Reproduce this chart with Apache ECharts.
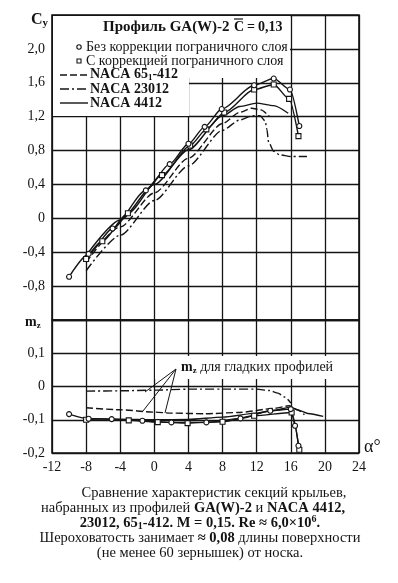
<!DOCTYPE html>
<html>
<head>
<meta charset="utf-8">
<script src="https://cdn.jsdelivr.net/npm/echarts@6/dist/echarts.min.js"></script>
<style>
html,body{margin:0;padding:0;background:#fff;}
#chart{width:398px;height:583px;}
</style>
</head>
<body>
<div id="chart"></div>
<script>
// ---- Cy(alpha) ----
// GA(W)-2 без коррекции (кружки)
var gaPlainAlpha = [-10, -7.7, -4.9, -1.0, 1.8, 4, 5.9, 7.9, 11.7, 14, 15.9, 17.0];
var gaPlainCy    = [-0.69, -0.42, -0.12, 0.33, 0.64, 0.88, 1.08, 1.29, 1.57, 1.65, 1.52, 1.09];
// GA(W)-2 с коррекцией (квадраты)
var gaCorrAlpha = [-8, -6.1, -3.1, 0.9, 4.2, 6.1, 8.2, 11.7, 14, 15.8, 16.9];
var gaCorrCy    = [-0.48, -0.27, 0.06, 0.51, 0.86, 1.05, 1.25, 1.52, 1.58, 1.41, 0.97];
// NACA 65-1-412
var n65Alpha = [-8, -4, 0, 4, 8, 10, 11.4, 12.5, 13.5];
var n65Cy    = [-0.52, -0.10, 0.30, 0.71, 1.12, 1.25, 1.30, 1.28, 1.20];
// NACA 23012
var n230Alpha = [-8, -4, 0, 4, 8, 10, 11.5, 12.4, 13.0, 13.2, 13.4, 14, 14.7, 16, 17.9];
var n230Cy    = [-0.62, -0.20, 0.21, 0.62, 1.04, 1.16, 1.21, 1.21, 1.15, 1.05, 0.90, 0.79, 0.75, 0.73, 0.73];
// NACA 4412
var n44Alpha = [-8, -4, 0, 4, 8, 10, 12, 14, 15.7];
var n44Cy    = [-0.44, -0.02, 0.40, 0.81, 1.21, 1.32, 1.36, 1.33, 1.24];

// ---- mz(alpha) ----
var gaPlainMzAlpha = [-10, -7.7, -5, -1.4, 2, 6.1, 10.1, 13.6, 16.0, 16.5, 16.9];
var gaPlainMz      = [-0.083, -0.097, -0.098, -0.103, -0.108, -0.108, -0.096, -0.073, -0.068, -0.118, -0.178];
var gaCorrMzAlpha = [-8, -3, 0.4, 3.9, 8, 11.7, 16.1, 17.0];
var gaCorrMz      = [-0.100, -0.102, -0.107, -0.110, -0.106, -0.088, -0.078, -0.190];
var n65MzAlpha = [-8, -4, 0, 2, 6, 10, 14, 15.8, 16.8, 17.6];
var n65Mz      = [-0.064, -0.070, -0.077, -0.080, -0.082, -0.078, -0.066, -0.058, -0.070, -0.085];
var n230MzAlpha = [-8, -4, 0, 4, 8, 12, 13.5, 14.5, 15.3, 16];
var n230Mz      = [-0.014, -0.013, -0.011, -0.008, -0.008, -0.008, -0.012, -0.020, -0.032, -0.050];
var n44MzAlpha = [-8, -4, 0, 4, 8, 12, 14, 16, 17, 18, 19.8];
var n44Mz      = [-0.096, -0.098, -0.100, -0.099, -0.092, -0.080, -0.072, -0.062, -0.072, -0.081, -0.090];

// оси
var alphaMin = -12, alphaMax = 24, alphaStep = 4;
var cyMin = -1.2, cyMax = 2.4, cyStep = 0.4;
var mzMin = -0.2, mzMax = 0.2, mzStep = 0.1;

var SERIF = "'Liberation Serif', 'DejaVu Serif', serif";
var INK = '#141414';

function pairs(xs, ys) {
    var out = [];
    for (var i = 0; i < xs.length; i++) out.push([xs[i], ys[i]]);
    return out;
}
function comma(v) {
    if (Math.abs(v) < 1e-9) return '0';
    return v.toFixed(1).replace('.', ',');
}
function line(gi, xs, ys, dash, symbol) {
    return {
        type: 'line',
        xAxisIndex: gi, yAxisIndex: gi,
        data: pairs(xs, ys),
        smooth: 0.25,
        smoothMonotone: 'x',
        showSymbol: !!symbol,
        symbol: symbol || 'none',
        symbolSize: 5,
        itemStyle: {color: '#fff', borderColor: INK, borderWidth: 1.1},
        lineStyle: {color: INK, width: 1.4, type: dash || 'solid'},
        emphasis: {disabled: true},
        animation: false,
        z: 3
    };
}
function gridAxis(gi, min, max, step, labels, fmt) {
    return {
        gridIndex: gi, type: 'value', min: min, max: max, interval: step,
        axisLine: {show: false}, axisTick: {show: false},
        splitLine: {show: true, lineStyle: {color: INK, width: 1.3}},
        axisLabel: {show: labels, formatter: fmt, color: INK, fontFamily: SERIF, fontSize: 14, margin: 7}
    };
}
function capt(t) {
    return {
        text: t, fill: INK, align: 'center', verticalAlign: 'middle',
        rich: {
            r: {fontFamily: SERIF, fontSize: 14.5, lineHeight: 17},
            b: {fontFamily: SERIF, fontWeight: 'bold', fontSize: 14.5, lineHeight: 17},
            bs: {fontFamily: SERIF, fontWeight: 'bold', fontSize: 10, lineHeight: 10, verticalAlign: 'bottom'},
            bp: {fontFamily: SERIF, fontWeight: 'bold', fontSize: 10, lineHeight: 10, verticalAlign: 'top'}
        }
    };
}
function plain(x, y, t, size, bold) {
    return {type: 'text', z: 10, x: x, y: y, style: {
        text: t, fill: INK, fontFamily: SERIF, fontSize: size,
        fontWeight: bold ? 'bold' : 'normal', verticalAlign: 'middle'
    }};
}

var DASH = [7, 3];
var DASHDOT = [9, 3, 2, 3];

var myChart = echarts.init(document.getElementById('chart'), null, {renderer: 'canvas'});

var option = {
    backgroundColor: '#fff',
    animation: false,
    grid: [
        {left: 52, top: 15, width: 307, height: 305, show: true, borderColor: INK, borderWidth: 1.6},
        {left: 52, top: 320, width: 307, height: 133, show: true, borderColor: INK, borderWidth: 1.6}
    ],
    xAxis: [
        gridAxis(0, alphaMin, alphaMax, alphaStep, false),
        gridAxis(1, alphaMin, alphaMax, alphaStep, true, function (v) { return String(v); })
    ],
    yAxis: [
        gridAxis(0, cyMin, cyMax, cyStep, true, function (v) {
            if (v > 2.3 || v < -1.1) return '';
            return comma(v);
        }),
        gridAxis(1, mzMin, mzMax, mzStep, true, function (v) {
            if (v > 0.15) return '';
            return comma(v);
        })
    ],
    series: [
        line(0, n65Alpha, n65Cy, DASH),
        line(0, n230Alpha, n230Cy, DASHDOT),
        line(0, n44Alpha, n44Cy),
        line(0, gaCorrAlpha, gaCorrCy, null, 'rect'),
        line(0, gaPlainAlpha, gaPlainCy, null, 'circle'),
        line(1, n65MzAlpha, n65Mz, DASH),
        line(1, n230MzAlpha, n230Mz, DASHDOT),
        line(1, n44MzAlpha, n44Mz),
        line(1, gaCorrMzAlpha, gaCorrMz, null, 'rect'),
        line(1, gaPlainMzAlpha, gaPlainMz, null, 'circle')
    ],
    graphic: {elements: [
        // белые поля под подписями
        {type: 'rect', z: 1, shape: {x: 53, y: 16, width: 237, height: 62}, style: {fill: '#fff'}},
        {type: 'rect', z: 1, shape: {x: 53, y: 16, width: 136, height: 100}, style: {fill: '#fff'}},
        {type: 'rect', z: 1, shape: {x: 155, y: 356, width: 203, height: 23}, style: {fill: '#fff'}},

        // заголовок поля
        plain(103, 27, 'Профиль GA(W)-2', 15, true),
        plain(234, 27, 'C', 14, true),
        {type: 'line', z: 10, shape: {x1: 234, y1: 19, x2: 243, y2: 19}, style: {stroke: INK, lineWidth: 1.2}},
        plain(247, 27, '=', 14, true),
        plain(258, 27, '0,13', 14, true),

        // легенда
        {type: 'circle', z: 10, shape: {cx: 79, cy: 47, r: 2.2}, style: {fill: '#fff', stroke: INK, lineWidth: 1.1}},
        plain(86, 47, 'Без коррекции пограничного слоя', 14),
        {type: 'rect', z: 10, shape: {x: 77, y: 59, width: 4, height: 4}, style: {fill: '#fff', stroke: INK, lineWidth: 1.1}},
        plain(86, 61, 'С коррекцией пограничного слоя', 14),
        {type: 'line', z: 10, shape: {x1: 60, y1: 75, x2: 88, y2: 75}, style: {stroke: INK, lineWidth: 1.4, lineDash: DASH}},
        {type: 'text', z: 10, x: 90, y: 74, style: {
            text: '{b|NACA 65}{s|1}{b|-412}', fill: INK, verticalAlign: 'middle',
            rich: {
                b: {fontFamily: SERIF, fontWeight: 'bold', fontSize: 14, lineHeight: 16},
                s: {fontFamily: SERIF, fontWeight: 'bold', fontSize: 9, lineHeight: 9, verticalAlign: 'bottom'}
            }
        }},
        {type: 'line', z: 10, shape: {x1: 60, y1: 89, x2: 88, y2: 89}, style: {stroke: INK, lineWidth: 1.4, lineDash: DASHDOT}},
        plain(90, 89, 'NACA 23012', 14, true),
        {type: 'line', z: 10, shape: {x1: 60, y1: 103, x2: 88, y2: 103}, style: {stroke: INK, lineWidth: 1.4}},
        plain(90, 103, 'NACA 4412', 14, true),

        // подписи осей
        {type: 'text', z: 10, x: 31, y: 20, style: {
            text: '{c|C}{s|y}', fill: INK, verticalAlign: 'middle',
            rich: {
                c: {fontFamily: SERIF, fontWeight: 'bold', fontSize: 16, lineHeight: 18},
                s: {fontFamily: SERIF, fontWeight: 'bold', fontSize: 11, lineHeight: 11, verticalAlign: 'bottom'}
            }
        }},
        {type: 'text', z: 10, x: 25, y: 322, style: {
            text: '{c|m}{s|z}', fill: INK, verticalAlign: 'middle',
            rich: {
                c: {fontFamily: SERIF, fontWeight: 'bold', fontSize: 14, lineHeight: 16},
                s: {fontFamily: SERIF, fontWeight: 'bold', fontSize: 9, lineHeight: 9, verticalAlign: 'bottom'}
            }
        }},
        plain(364, 447, 'α°', 18),

        // mz для гладких профилей
        {type: 'text', z: 10, x: 181, y: 367, style: {
            text: '{c|m}{s|z}{r| для гладких профилей}', fill: INK, verticalAlign: 'middle',
            rich: {
                c: {fontFamily: SERIF, fontWeight: 'bold', fontSize: 14, lineHeight: 16},
                s: {fontFamily: SERIF, fontWeight: 'bold', fontSize: 9, lineHeight: 9, verticalAlign: 'bottom'},
                r: {fontFamily: SERIF, fontSize: 14, lineHeight: 16}
            }
        }},
        {type: 'line', z: 10, shape: {x1: 176, y1: 369, x2: 145, y2: 392}, style: {stroke: INK, lineWidth: 1}},
        {type: 'line', z: 10, shape: {x1: 176, y1: 369, x2: 143, y2: 411}, style: {stroke: INK, lineWidth: 1}},
        {type: 'line', z: 10, shape: {x1: 176, y1: 369, x2: 165, y2: 413}, style: {stroke: INK, lineWidth: 1}},

        // подпись под рисунком
        {type: 'text', z: 10, x: 214, y: 493, style: capt('{r|Сравнение характеристик секций крыльев,}')},
        {type: 'text', z: 10, x: 193, y: 508, style: capt('{r|набранных из профилей }{b|GA(W)-2}{r| и }{b|NACA 4412,}')},
        {type: 'text', z: 10, x: 200, y: 523, style: capt('{b|23012, 65}{bs|1}{b|-412. M = 0,15. Re ≈ 6,0×10}{bp|6}{b|.}')},
        {type: 'text', z: 10, x: 200, y: 538, style: capt('{r|Шероховатость занимает }{b|≈ 0,08}{r| длины поверхности}')},
        {type: 'text', z: 10, x: 200, y: 553, style: capt('{r|(не менее 60 зернышек) от носка.}')}
    ]}
};

myChart.setOption(option);
</script>
</body>
</html>
